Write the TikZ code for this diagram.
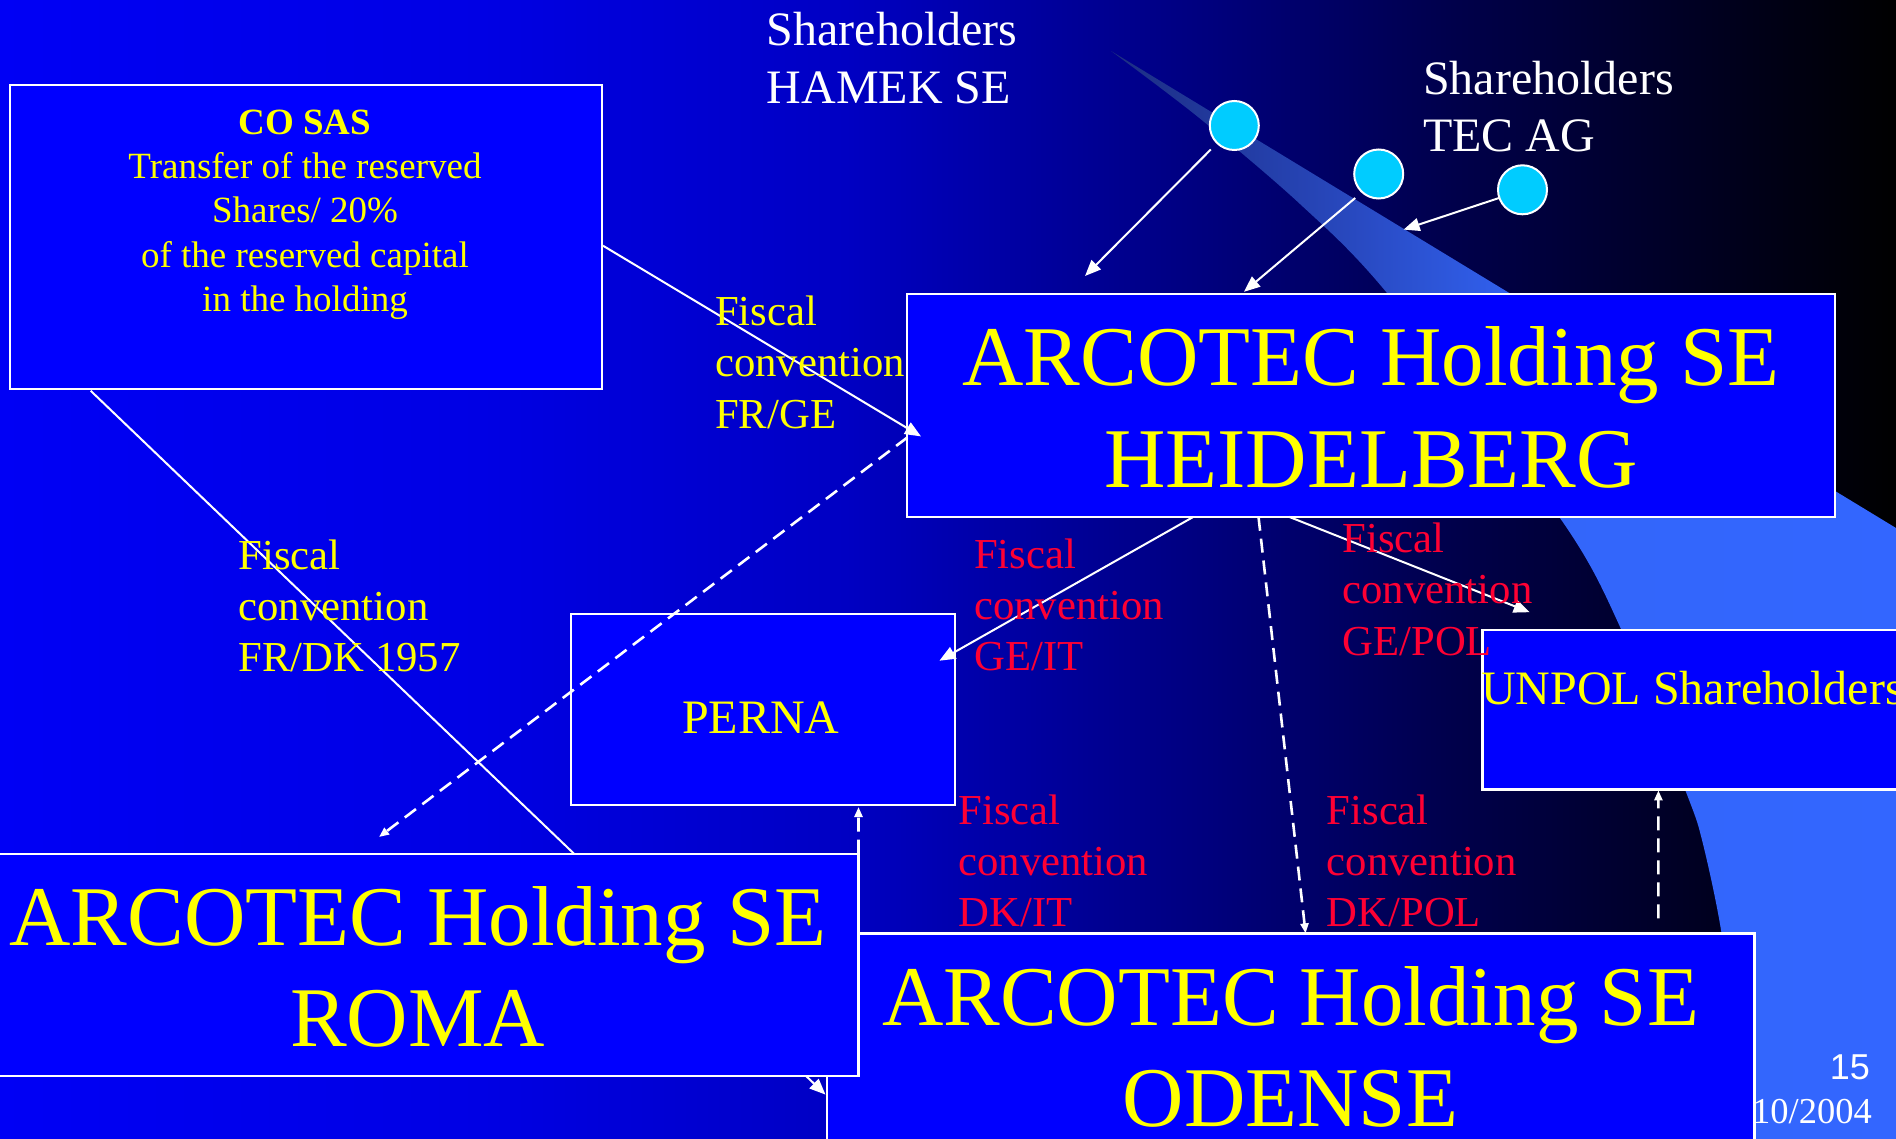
\documentclass[tikz,border=0pt]{standalone}
\usepackage{fontspec}
\setmainfont{Liberation Serif}
\newfontfamily\arialfont{Liberation Sans}
\usetikzlibrary{arrows.meta}

% slide colours
\definecolor{bgA}{RGB}{0,0,245}
\definecolor{bgB}{RGB}{0,0,228}
\definecolor{bgC}{RGB}{0,0,195}
\definecolor{bgD}{RGB}{0,0,125}
\definecolor{bgE}{RGB}{0,0,75}
\definecolor{bgF}{RGB}{0,0,35}
\definecolor{bgG}{RGB}{0,0,0}
\definecolor{swA}{RGB}{28,45,130}
\definecolor{swB}{RGB}{40,72,190}
\definecolor{swC}{RGB}{51,102,250}
\definecolor{swD}{RGB}{51,102,255}
\definecolor{boxblue}{RGB}{0,0,255}
\definecolor{labelred}{RGB}{255,0,51}
\definecolor{labelyellow}{RGB}{255,255,0}
\definecolor{dotcyan}{RGB}{0,204,255}

% background: blue on the left fading to black on the right
\pgfdeclarehorizontalshading{slidebg}{100bp}{color(0bp)=(bgA); color(25bp)=(bgA);
  color(37.7bp)=(bgB); color(47.3bp)=(bgC); color(56.9bp)=(bgD);
  color(63.3bp)=(bgE); color(69.6bp)=(bgF); color(75bp)=(bgG); color(100bp)=(bgG)}
% light band sweeping down the right side
\pgfdeclarehorizontalshading{swooshshade}{100bp}{color(0bp)=(swA); color(25bp)=(swA);
  color(40bp)=(swB); color(53bp)=(swC); color(75bp)=(swD); color(100bp)=(swD)}

\newcommand\fsbig{\fontsize{85pt}{101.3pt}\selectfont}
\newcommand\fslabel{\fontsize{42.7pt}{51.2pt}\selectfont}
\newcommand\fsholder{\fontsize{48pt}{57.4pt}\selectfont}
\newcommand\fsnote{\fontsize{37pt}{44.3pt}\selectfont}

\begin{document}
\begin{tikzpicture}[x=1pt,y=-1pt,
  orgbox/.style={draw=white, line width=2.2pt, fill=boxblue, rectangle,
    inner sep=0pt, outer sep=0pt, anchor=north west},
  sharedot/.style={circle, draw=white, line width=2pt, fill=dotcyan,
    minimum size=49pt, inner sep=0pt},
  solidlink/.style={draw=white, line width=2pt, -{Triangle[length=16pt,width=13pt]}},
  dashlink/.style={draw=white, line width=2.6pt, dash pattern=on 14pt off 8pt,
    -{Triangle[length=10pt,width=8pt]}},
  ltxt/.style={inner sep=0pt, anchor=base west},
  ctxt/.style={inner sep=0pt, anchor=base},
]
\useasboundingbox (0,0) rectangle (1896,1139);
\clip (0,0) rectangle (1896,1139);

% background and light band
\shade[shading=slidebg] (0,0) rectangle (1896,1139);
\shade[shading=swooshshade] (1111,51) -- (1896,528) -- (1896,1139)
  -- plot[smooth] coordinates {(1750,1139) (1738,1060) (1721,930) (1702,840)
     (1686,792) (1621,629) (1560,518) (1387,293) (1300,204) (1198,117) (1111,51)}
  -- cycle;

% shareholder dots
\node[sharedot] (c1) at (1234.3,125.5) {};
\node[sharedot] (c2) at (1378.7,174) {};
\node[sharedot] (c3) at (1522.5,189.8) {};

% boxes (Odense lies under Roma)
\node[orgbox, minimum width=591.7pt, minimum height=303.8pt] (cosas) at (10.3,85.2) {};
\node[orgbox, minimum width=927.5pt, minimum height=222.4pt] (heid) at (907.3,294.4) {};
\node[orgbox, minimum width=384.3pt, minimum height=191.3pt] (perna) at (570.7,614) {};
\node[orgbox, minimum width=500pt, minimum height=159.5pt] (unpol) at (1482.4,629.9) {};
\node[orgbox, minimum width=927.9pt, minimum height=300pt] (odense) at (826.6,933.4) {};

% CO SAS to Odense runs beneath the Roma box
\draw[solidlink] ([shift={(80.4,1.8)}]cosas.south west) -- ([shift={(-1.1,161.2)}]odense.north west);

\node[orgbox, minimum width=881.5pt, minimum height=222.5pt] (roma) at (-23,853.7) {};

% connectors
\coordinate (tecend) at (1403.6,229.6);
\draw[solidlink] ([shift={(-23.5,24)}]c1.center) -- ([shift={(177.7,-18.4)}]heid.north west);
\draw[solidlink] ([shift={(-23.5,24)}]c2.center) -- ([shift={(336.7,-2.6)}]heid.north west);
\draw[solidlink] ([shift={(-23.5,8.2)}]c3.center) -- (tecend);

\draw[solidlink] ([shift={(1,8.6)}]cosas.east) -- ([shift={(13.7,30.8)}]heid.west);
\draw[dashlink] ([shift={(0,31.9)}]heid.west) -- ([shift={(402,-16.7)}]roma.north west);
\draw[solidlink] ([shift={(286.2,0)}]heid.south west) -- ([shift={(-15.6,46.7)}]perna.north east);
\draw[dashlink] ([shift={(351.2,0)}]heid.south west) -- ([shift={(479,0)}]odense.north west);
\draw[solidlink] ([shift={(381.7,0)}]heid.south west) -- ([shift={(47.3,-17.7)}]unpol.north west);
\draw[dashlink] (roma.north east) -- ([shift={(-96.5,1.7)}]perna.south east);
\draw[dashlink] ([shift={(831.8,-15)}]odense.north west) -- ([shift={(176,1)}]unpol.south west);

% shareholder captions
\node[ltxt, text=white, font=\fsholder] (hamek) at (766.7,45.7)
  {\parbox[t]{400pt}{\raggedright Shareholders\\HAMEK SE}};
\node[ltxt, text=white, font=\fsholder] (tecag) at (1423,94.4)
  {\parbox[t]{400pt}{\raggedright Shareholders\\TEC AG}};

% box texts
\node[ctxt, text=labelyellow, font=\fsnote] (cosastxt) at (305,134.3)
  {\parbox[t]{560pt}{\centering\textbf{CO SAS}\\Transfer of the reserved\\Shares/ 20\%\\of the reserved capital\\in the holding}};
\node[ctxt, text=labelyellow, font=\fsbig] (heidtxt) at (1371,386)
  {\parbox[t]{920pt}{\centering ARCOTEC Holding SE\\HEIDELBERG}};
\node[ctxt, text=labelyellow, font=\fsbig] (romatxt) at (417.8,945.3)
  {\parbox[t]{920pt}{\centering ARCOTEC Holding SE\\ROMA}};
\node[ctxt, text=labelyellow, font=\fsbig] (odensetxt) at (1290.5,1025)
  {\parbox[t]{920pt}{\centering ARCOTEC Holding SE\\ODENSE}};
\node[ctxt, text=labelyellow, font=\fsholder] (pernatxt) at (760.8,733.3) {PERNA};
\node[ltxt, text=labelyellow, font=\fsholder] (unpoltxt) at (1481,704.8) {UNPOL Shareholders};

% convention labels
\node[ltxt, text=labelyellow, font=\fslabel] (frge) at (715,325.7)
  {\parbox[t]{300pt}{\raggedright Fiscal\\convention\\FR/GE}};
\node[ltxt, text=labelyellow, font=\fslabel] (frdk) at (238.4,569)
  {\parbox[t]{300pt}{\raggedright Fiscal\\convention\\FR/DK 1957}};
\node[ltxt, text=labelred, font=\fslabel] (geit) at (974,568.3)
  {\parbox[t]{300pt}{\raggedright Fiscal\\convention\\GE/IT}};
\node[ltxt, text=labelred, font=\fslabel] (gepol) at (1342.4,552.6)
  {\parbox[t]{300pt}{\raggedright Fiscal\\convention\\GE/POL}};
\node[ltxt, text=labelred, font=\fslabel] (dkit) at (958.3,824)
  {\parbox[t]{300pt}{\raggedright Fiscal\\convention\\DK/IT}};
\node[ltxt, text=labelred, font=\fslabel] (dkpol) at (1326.6,824)
  {\parbox[t]{300pt}{\raggedright Fiscal\\convention\\DK/POL}};

% page number and date
\node[inner sep=0pt, anchor=base east, text=white, font=\arialfont\fontsize{36pt}{40pt}\selectfont]
  (pagenum) at (1870,1079.5) {15};
\node[inner sep=0pt, anchor=base east, text=white, font=\fontsize{36.5pt}{40pt}\selectfont]
  (datetxt) at (1872,1123.2) {10/2004};
\end{tikzpicture}
\end{document}
